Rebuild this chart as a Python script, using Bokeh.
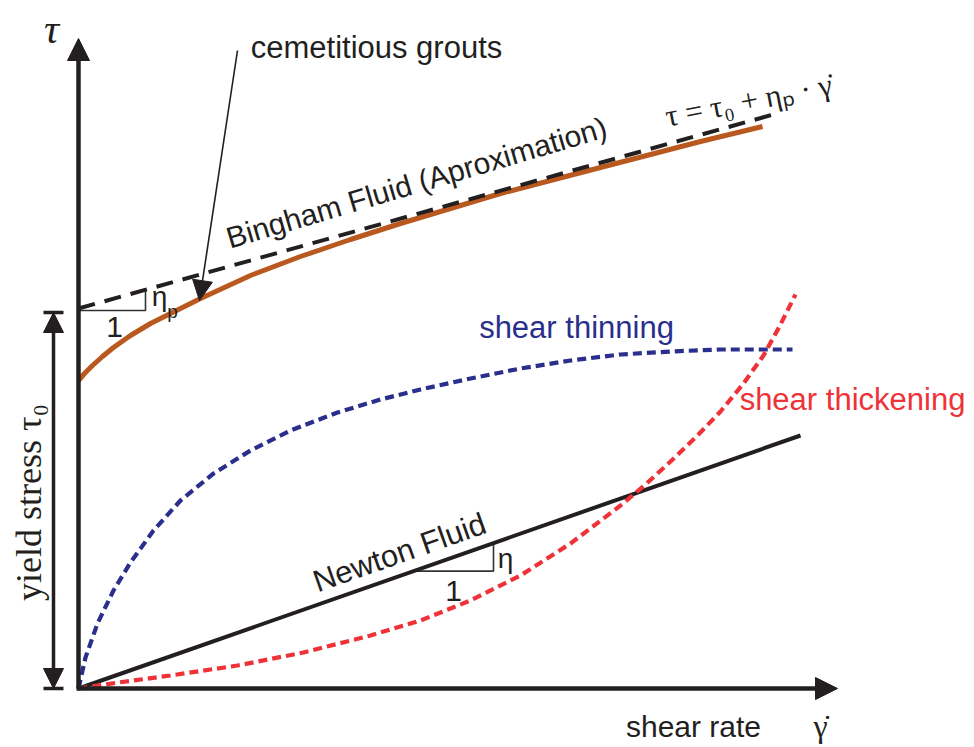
import math
from bokeh.plotting import figure
from bokeh.models import Range1d, Arrow, NormalHead, Label
from bokeh.embed import file_html
from bokeh.resources import INLINE

# ---------------- data (shear rate -> shear stress, schematic units) ----------------
bingham_x = [0, 6, 14, 24, 35, 52, 72, 92, 122, 172, 222, 272, 322, 372, 422, 472, 522, 572, 622, 684]
bingham_y = [308, 315, 323, 332, 341, 353, 365, 375, 390, 413, 432, 449, 465, 480, 495, 508, 521, 534, 547, 562]

bingham_approx_x = [0, 702]
bingham_approx_y = [380, 576]

thinning_x = [0, 7, 19, 35, 52, 75, 102, 135, 172, 212, 259, 302, 342, 392, 442, 492, 542, 592, 642, 714]
thinning_y = [0, 31, 65, 98, 126, 158, 188, 215, 238, 258, 276, 289, 299, 310, 320, 328, 334, 337, 339, 339]

thickening_x = [0, 40, 92, 159, 225, 292, 342, 392, 442, 492, 542, 567, 592, 617, 642, 665, 685, 701, 717]
thickening_y = [0, 6, 13, 23, 36, 53, 68, 88, 113, 145, 183, 204, 227, 251, 277, 305, 333, 362, 394]

newton_x = [0, 722]
newton_y = [0, 253]

yield_stress = 376          # tau_0 marker height
axis_x_end = 759
axis_y_end = 650

# slope triangles: (start x, run)
np_tri = (0, 67)
newton_tri = (335, 80)

# colours
BLACK = "#231F20"
BROWN = "#B9581F"
NAVY = "#2A2E8C"
RED = "#EE3237"
SANS = "Liberation Sans"
SERIF = "Liberation Serif"

p = figure(width=974, height=747, x_range=Range1d(-78, 896), y_range=Range1d(-59, 688),
           output_backend="svg", toolbar_location=None,
           x_axis_location=None, y_axis_location=None, min_border=0)
p.outline_line_color = None
p.grid.grid_line_color = None
p.background_fill_color = "white"
p.border_fill_color = "white"

# ---------------- axes with arrows ----------------
p.add_layout(Arrow(end=NormalHead(size=22, fill_color=BLACK, line_color=BLACK),
                   x_start=0, y_start=0, x_end=0, y_end=axis_y_end,
                   line_width=4.5, line_color=BLACK))
p.add_layout(Arrow(end=NormalHead(size=22, fill_color=BLACK, line_color=BLACK),
                   x_start=-2, y_start=0, x_end=axis_x_end, y_end=0,
                   line_width=4.5, line_color=BLACK))

# yield stress double arrow
p.add_layout(Arrow(start=NormalHead(size=20, fill_color=BLACK, line_color=BLACK),
                   end=NormalHead(size=20, fill_color=BLACK, line_color=BLACK),
                   x_start=-25, y_start=0, x_end=-25, y_end=yield_stress,
                   line_width=3.5, line_color=BLACK))
p.segment(x0=[-35, -35], y0=[0, yield_stress], x1=[-15, -15], y1=[0, yield_stress],
          line_width=3.5, line_color=BLACK)

# ---------------- slope triangles ----------------
bslope = (bingham_approx_y[1] - bingham_approx_y[0]) / (bingham_approx_x[1] - bingham_approx_x[0])
bx0, brun = np_tri
by0 = bingham_approx_y[0] + bslope * bx0 - 2
p.line([bx0, bx0 + brun, bx0 + brun], [by0, by0, bingham_approx_y[0] + bslope * (bx0 + brun)],
       line_width=1.6, line_color="#333333")

nslope = newton_y[1] / newton_x[1]
nx0, nrun = newton_tri
ny0 = nslope * nx0
p.line([nx0, nx0 + nrun, nx0 + nrun], [ny0, ny0, nslope * (nx0 + nrun)],
       line_width=1.6, line_color="#333333")

# ---------------- curves ----------------
p.line(newton_x, newton_y, line_width=4, line_color=BLACK)
p.line(thinning_x, thinning_y, line_width=4.2, line_color=NAVY, line_dash="9 5")
p.line(thickening_x, thickening_y, line_width=4.2, line_color=RED, line_dash="9 5")
p.line(bingham_x, bingham_y, line_width=5, line_color=BROWN)
p.line(bingham_approx_x, bingham_approx_y, line_width=4, line_color=BLACK, line_dash="17 10")

# cemetitious grouts pointer
p.add_layout(Arrow(end=NormalHead(size=20, fill_color=BLACK, line_color=BLACK),
                   x_start=159, y_start=638, x_end=121, y_end=388,
                   line_width=1.6, line_color=BLACK))

# ---------------- texts ----------------
def lab(x, y, text, size, font=SANS, color=BLACK, angle=0.0, align="left",
        baseline="alphabetic", style="normal"):
    p.add_layout(Label(x=x, y=y, text=text, text_font=font, text_font_size=size,
                       text_color=color, angle=math.radians(angle), text_align=align,
                       text_baseline=baseline, text_font_style=style))

lab(-27, 660, "τ", "42px", font=SERIF, align="center", style="italic")
lab(298, 641, "cemetitious grouts", "31px", align="center")
lab(338, 506, "Bingham Fluid (Aproximation)", "30px", align="center", angle=16.5)
lab(587, 572, "τ = τ₀ + ηₚ · γ̇", "31px", font=SERIF, angle=11)
lab(498, 361, "shear thinning", "31px", color=NAVY, align="center")
lab(774, 289, "shear thickening", "31px", color=RED, align="center")
lab(321, 136, "Newton Fluid", "31px", align="center", angle=19.5)
lab(615, -38, "shear rate", "30px", align="center")
lab(742, -37, "γ̇", "32px", font=SERIF, align="center")
lab(-50, 186, "yield stress τ₀", "36px", font=SERIF, align="center", angle=90)

lab(36, 362, "1", "30px", align="center", baseline="middle")
lab(81, 392, "η", "28px", align="center", baseline="middle")
lab(94, 377, "p", "19px", align="center", baseline="middle")
lab(375, 98, "1", "30px", align="center", baseline="middle")
lab(427, 130, "η", "28px", align="center", baseline="middle")

open("out.html", "w").write(file_html(p, INLINE))
